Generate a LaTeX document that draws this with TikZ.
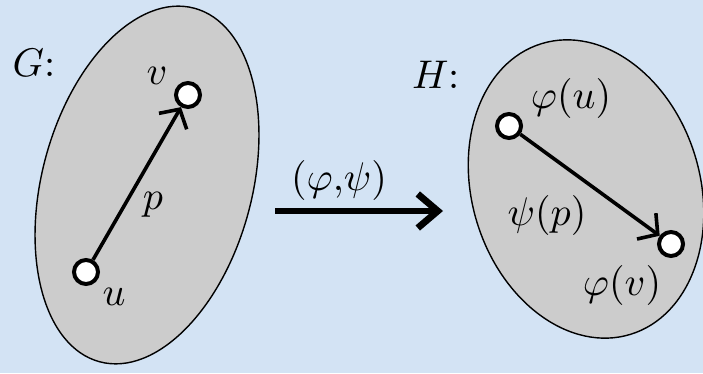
\documentclass[tikz,border=0pt]{standalone}
\usepackage{amsmath}
\usepackage{amssymb}
\usepackage{xcolor}
\usepackage{tikz}
\usetikzlibrary{positioning, arrows.meta, calc}

\definecolor{bgblue}{RGB}{211,227,244}
\definecolor{setgray}{RGB}{204,204,204}

\begin{document}
\begin{tikzpicture}[
        x=0.25pt, y=-0.25pt,
        vert/.style={circle, draw=black, line width=1pt, fill=white, inner sep=0pt, minimum size=6pt},
        graphset/.style={draw=black, line width=0.35pt, fill=setgray},
        edgearrow/.style={-{Straight Barb[length=3.5pt, width=8pt]}, line width=0.9pt},
        maparrow/.style={-{Straight Barb[length=5pt, width=8.5pt]}, line width=1.7pt}
    ]

    \fill[bgblue] (0,0) rectangle (703,373);
    \useasboundingbox (0,0) rectangle (703,373);

    % the two graphs
    \draw[graphset, rotate around={-15:(147,185)}] (147,185) ellipse [x radius=105, y radius=183];
    \draw[graphset, rotate around={17:(586,189)}] (586,189) ellipse [x radius=114, y radius=152];

    \node (gname) at (34,63) {$G$:};
    \node (hname) at (436,75) {$H$:};

    % G
    \node[vert] (u) at (86,272) {};
    \node[vert] (v) at (188,95) {};
    \draw[edgearrow] (u) -- (v);
    \node at ($(u)+(28,25)$) {$u$};
    \node at ($(v)+(-31,-19)$) {$v$};
    \node at ($(u)!0.5!(v)+(16,21)$) {$p$};

    % H
    \node[vert] (fu) at (509,126) {};
    \node[vert] (fv) at (671,244) {};
    \draw[edgearrow] (fu) -- (fv);
    \node at ($(fu)+(62,-27)$) {$\varphi(u)$};
    \node at ($(fv)+(-49,42)$) {$\varphi(v)$};
    \node at ($(fu)!0.5!(fv)+(-43,30)$) {$\psi(p)$};

    % the map
    \coordinate (mapL) at (275,211);
    \coordinate (mapR) at (443,211);
    \draw[maparrow] (mapL) -- (mapR);
    \node at (339,181) {$(\varphi{,}\psi)$};

\end{tikzpicture}
\end{document}
